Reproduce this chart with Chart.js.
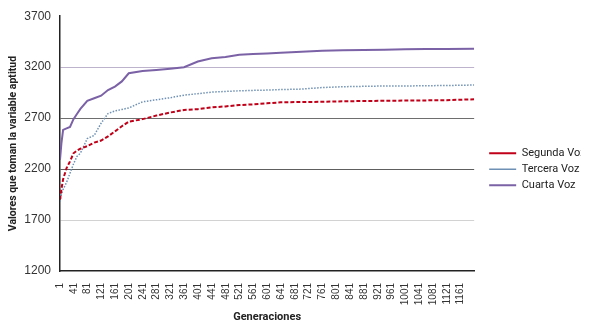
<!DOCTYPE html>
<html>
<head>
<meta charset="utf-8">
<script src="https://cdn.jsdelivr.net/npm/chart.js@4.4.0/dist/chart.umd.min.js"></script>
<style>
  html, body { margin: 0; padding: 0; background: #fff; }
  #wrap { width: 589px; height: 326px; }
</style>
</head>
<body>
<div id="wrap"><canvas id="chart" width="589" height="326"></canvas></div>
<script>
// generations
const generaciones = [1, 5, 10, 20, 30, 40, 50, 60, 80, 100, 120, 140, 160, 180, 200, 240, 280, 320, 360, 400,
    440, 480, 520, 560, 600, 640, 700, 760, 820, 880, 940, 1000, 1060, 1120, 1200];

const segundaVoz = [1900, 2000, 2100, 2210, 2275, 2355, 2380, 2400, 2425, 2460, 2480, 2520, 2570, 2620, 2665, 2690, 2725, 2755, 2780, 2788,
    2805, 2815, 2828, 2835, 2845, 2855, 2858, 2860, 2865, 2868, 2870, 2872, 2874, 2876, 2885];

const terceraVoz = [1880, 1950, 2000, 2070, 2160, 2250, 2325, 2355, 2500, 2530, 2650, 2745, 2770, 2785, 2800, 2860, 2880, 2900, 2925, 2940,
    2955, 2962, 2968, 2972, 2975, 2980, 2985, 3000, 3008, 3012, 3015, 3015, 3018, 3020, 3025];

const cuartaVoz = [2290, 2450, 2585, 2600, 2614, 2690, 2740, 2790, 2870, 2895, 2920, 2975, 3010, 3060, 3140, 3162, 3172, 3185, 3200, 3255,
    3288, 3300, 3322, 3328, 3335, 3342, 3352, 3362, 3365, 3368, 3372, 3375, 3378, 3378, 3380];

// x tick labels: every 40 generations
const xTicks = [];
for (let g = 1; g <= 1161; g += 40) xTicks.push(g);

const yTicks = [1200, 1700, 2200, 2700, 3200, 3700];

const toPoints = (vals) => vals.map((v, i) => ({ x: generaciones[i], y: v }));

const gridColors = {
    1700: '#d2d2d2',
    2200: '#5e5e5e',
    2700: '#6e6e6e',
    3200: '#bdb3cc',
    3700: 'rgba(0,0,0,0)'
};

new Chart(document.getElementById('chart'), {
    type: 'line',
    data: {
        datasets: [
            {
                label: 'Segunda Voz',
                data: toPoints(segundaVoz),
                borderColor: '#c00018',
                backgroundColor: '#c00018',
                borderWidth: 2,
                borderDash: [4, 2],
                pointRadius: 0
            },
            {
                label: 'Tercera Voz',
                data: toPoints(terceraVoz),
                borderColor: '#6e90b4',
                backgroundColor: '#6e90b4',
                borderWidth: 1.5,
                borderDash: [1.5, 1.5],
                pointRadius: 0
            },
            {
                label: 'Cuarta Voz',
                data: toPoints(cuartaVoz),
                borderColor: '#7b62a6',
                backgroundColor: '#7b62a6',
                borderWidth: 2,
                pointRadius: 0
            }
        ]
    },
    options: {
        responsive: false,
        animation: false,
        layout: { padding: { left: 0, right: 8, top: 0, bottom: 2 } },
        plugins: {
            tooltip: { enabled: false },
            legend: {
                position: 'right',
                title: { display: true, text: ' ', padding: 6, font: { size: 2 } },
                labels: {
                    usePointStyle: true,
                    pointStyle: 'line',
                    pointStyleWidth: 27,
                    padding: 5,
                    color: '#222',
                    font: { family: 'Roboto', size: 11 },
                    // a little trailing room so the longest label is not cut at the box edge
                    generateLabels: (chart) => Chart.defaults.plugins.legend.labels.generateLabels(chart)
                        .map(item => ({ ...item, text: item.text + '  ' }))
                }
            }
        },
        scales: {
            x: {
                type: 'linear',
                min: 1,
                max: 1200,
                afterBuildTicks: (scale) => { scale.ticks = xTicks.map(v => ({ value: v })); },
                afterFit: (scale) => { scale.height = 53; },
                grid: { display: false },
                border: { display: true, color: '#222', width: 1.5 },
                ticks: {
                    autoSkip: false,
                    minRotation: 90,
                    maxRotation: 90,
                    padding: 4,
                    color: '#333',
                    font: { family: 'Liberation Sans', size: 10 },
                    callback: (v) => String(v)
                },
                title: {
                    display: true,
                    text: 'Generaciones',
                    color: '#222',
                    padding: { top: 5, bottom: 0 },
                    font: { family: 'Roboto', size: 11, weight: 'bold' }
                }
            },
            y: {
                min: 1200,
                max: 3700,
                afterBuildTicks: (scale) => { scale.ticks = yTicks.map(v => ({ value: v })); },
                afterFit: (scale) => { scale.width = 60; },
                grid: {
                    drawTicks: false,
                    color: (ctx) => gridColors[ctx.tick && ctx.tick.value] || 'rgba(0,0,0,0)',
                    lineWidth: 1
                },
                border: { display: true, color: '#222', width: 1.5 },
                ticks: {
                    padding: 9,
                    color: '#333',
                    font: { family: 'Liberation Sans', size: 12 },
                    callback: (v) => String(v)
                },
                title: {
                    display: true,
                    text: 'Valores que toman la variable aptitud',
                    color: '#222',
                    padding: { top: 7, bottom: 2 },
                    font: { family: 'Roboto', size: 10.5, weight: 'bold' }
                }
            },
            // empty spacer between the plot and the legend
            spacer: {
                type: 'linear',
                position: 'right',
                display: true,
                afterFit: (scale) => { scale.width = 10; },
                grid: { display: false },
                border: { display: false },
                ticks: { display: false },
                title: { display: false }
            }
        }
    }
});
</script>
</body>
</html>
